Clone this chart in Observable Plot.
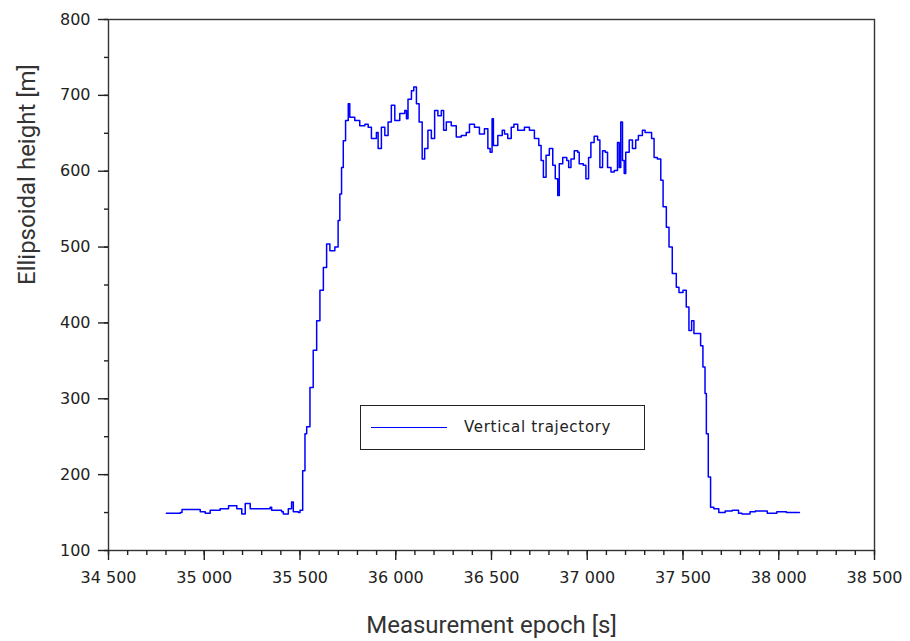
<!DOCTYPE html>
<html>
<head>
<meta charset="utf-8">
<script src="https://cdn.jsdelivr.net/npm/d3@7"></script>
<script src="https://cdn.jsdelivr.net/npm/@observablehq/plot@0.6"></script>
<style>
  html, body { margin: 0; padding: 0; background: #fff; }
  #wrap { position: relative; width: 910px; height: 641px; }
  #legend { position: absolute; left: 360px; top: 405px; width: 285px; height: 45px;
            box-sizing: border-box; border: 1.5px solid #222; background: #fff; }
  #legend .sw { position: absolute; left: 10px; top: 20.5px; width: 76px; height: 0; border-top: 1.5px solid #0000ff; }
  #legend .lb { position: absolute; left: 103px; top: 12px; font: 15px "DejaVu Sans", sans-serif;
                letter-spacing: 0.7px; color: #222; }
</style>
</head>
<body>
<div id="wrap"></div>
<script>
// Measurement epoch [s]
const epoch = [
  34802, 34875, 34884, 34962, 34979, 35005, 35031, 35083, 35127, 35170, 35196, 35214, 35240, 35292, 35344, 35352,
  35404, 35413, 35439, 35456, 35465, 35491, 35500, 35514, 35526, 35535, 35552, 35569, 35587, 35604, 35622, 35639,
  35656, 35682, 35699, 35708, 35717, 35726, 35738, 35752, 35760, 35786, 35812, 35839, 35856, 35873, 35899, 35908,
  35925, 35943, 35960, 35977, 35995, 36021, 36047, 36056, 36064, 36082, 36094, 36108, 36122, 36138, 36151, 36168,
  36186, 36203, 36220, 36238, 36250, 36264, 36290, 36316, 36342, 36368, 36385, 36411, 36437, 36463, 36481, 36493,
  36503, 36510, 36533, 36556, 36568, 36585, 36603, 36617, 36637, 36672, 36698, 36724, 36747, 36759, 36771, 36785,
  36802, 36820, 36833, 36846, 36854, 36872, 36893, 36903, 36915, 36932, 36950, 36958, 36979, 36993, 37007, 37019,
  37036, 37054, 37066, 37080, 37094, 37106, 37124, 37141, 37158, 37167, 37175, 37184, 37193, 37201, 37219, 37236,
  37253, 37267, 37288, 37302, 37323, 37336, 37349, 37366, 37384, 37396, 37413, 37427, 37444, 37465, 37479, 37500,
  37517, 37531, 37545, 37557, 37574, 37592, 37604, 37615, 37622, 37632, 37644, 37661, 37687, 37720, 37757, 37790,
  37808, 37850, 37878, 37940, 37990, 38040, 38080, 38108
];
// Ellipsoidal height [m]
const height = [
  149, 150, 154, 154, 151, 149, 153, 155, 159, 155, 148, 162, 155, 155, 157, 153,
  151, 148, 155, 164, 151, 150, 153, 205, 254, 263, 315, 364, 403, 443, 473, 504,
  495, 500, 535, 570, 605, 640, 667, 689, 671, 667, 660, 662, 658, 643, 651, 630,
  658, 647, 665, 687, 667, 676, 680, 669, 695, 706, 711, 689, 665, 616, 630, 654,
  643, 680, 673, 680, 654, 665, 660, 645, 647, 651, 662, 658, 649, 656, 630, 625,
  669, 634, 647, 654, 649, 643, 658, 662, 654, 658, 654, 643, 634, 614, 592, 621,
  630, 608, 590, 568, 610, 618, 614, 605, 616, 627, 625, 610, 608, 590, 618, 638,
  646, 641, 605, 627, 625, 605, 599, 601, 638, 605, 665, 614, 597, 625, 641, 630,
  641, 647, 654, 651, 651, 643, 618, 616, 588, 553, 526, 500, 465, 447, 440, 443,
  421, 390, 403, 386, 386, 370, 342, 307, 254, 197, 157, 155, 150, 152, 153, 149,
  148, 151, 152, 149, 151, 150, 150, 150
];
const xMajor = d3.range(34500, 38501, 500);
const xMinor = d3.range(34500, 38501, 100);
const yMajor = d3.range(100, 801, 100);
const yMinor = d3.range(100, 801, 50);

const data = epoch.map((e, i) => ({epoch: e, height: height[i]}));
const fmt = d => d3.format(",")(d).replace(",", " ");
const font = "'DejaVu Sans', sans-serif";

const chart = Plot.plot({
  width: 910, height: 641,
  marginLeft: 108, marginRight: 36, marginTop: 19, marginBottom: 91,
  style: {fontFamily: font, background: "#fff"},
  x: {domain: [34500, 38500]},
  y: {domain: [100, 800]},
  marks: [
    Plot.line(data, {x: "epoch", y: "height", stroke: "#0000ff", strokeWidth: 1.5, curve: "step-after"}),
    Plot.frame({stroke: "#333", strokeWidth: 1.4}),
    Plot.axisX({ticks: xMinor, tickSize: 5, tickFormat: () => "", stroke: "#222", strokeWidth: 1.4, label: null}),
    Plot.axisX({ticks: xMajor, tickSize: 10, tickPadding: 11, tickFormat: fmt, fontSize: 16, fill: "#222",
                stroke: "#222", strokeWidth: 1.4, label: null, style: {letterSpacing: "0.5px"}}),
    Plot.axisY({ticks: yMinor, tickSize: 4, tickFormat: () => "", stroke: "#222", strokeWidth: 1.4, label: null}),
    Plot.axisY({ticks: yMajor, tickSize: 10, tickPadding: 8, tickFormat: d => String(d), fontSize: 16, fill: "#222",
                stroke: "#222", strokeWidth: 1.4, label: null, style: {letterSpacing: "0.5px"}}),
    Plot.text(["Measurement epoch [s]"], {frameAnchor: "bottom", dy: 75, fontSize: 24, fill: "#333",
                fontFamily: "Roboto, sans-serif", lineAnchor: "middle"}),
    Plot.text(["Ellipsoidal height [m]"], {frameAnchor: "left", dx: -81, rotate: -90, fontSize: 24, fill: "#333",
                fontFamily: "Roboto, sans-serif", lineAnchor: "middle"})
  ]
});
const wrap = document.getElementById("wrap");
wrap.appendChild(chart);
const lg = document.createElement("div");
lg.id = "legend";
lg.innerHTML = '<div class="sw"></div><div class="lb">Vertical trajectory</div>';
wrap.appendChild(lg);
</script>
</body>
</html>
